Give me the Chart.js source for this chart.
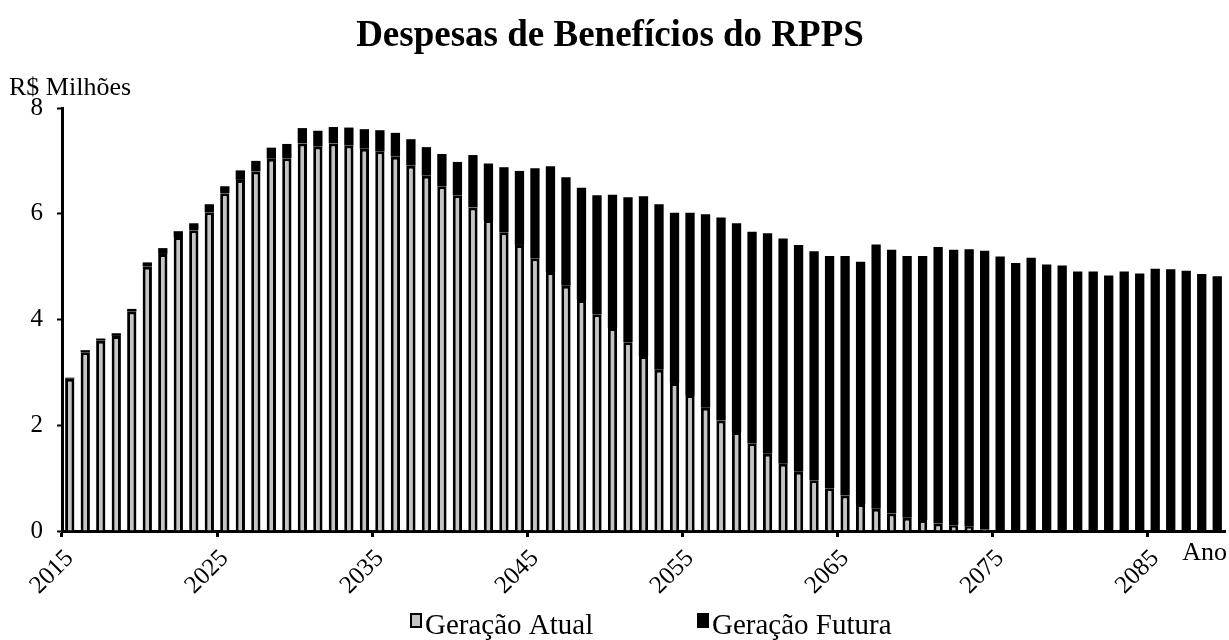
<!DOCTYPE html>
<html lang="pt-BR">
<head>
<meta charset="utf-8">
<title>Despesas de Benefícios do RPPS</title>
<script src="https://cdn.jsdelivr.net/npm/chart.js@4.4.1/dist/chart.umd.min.js"></script>
<style>
  html, body { margin: 0; padding: 0; background: #fff; }
  canvas { display: block; }
</style>
</head>
<body>
<canvas id="chart" width="1229" height="640"></canvas>
<script>
// anos da projeção (eixo x)
const years = [
  '2015','2016','2017','2018','2019','2020','2021','2022','2023','2024',
  '2025','2026','2027','2028','2029','2030','2031','2032','2033','2034',
  '2035','2036','2037','2038','2039','2040','2041','2042','2043','2044',
  '2045','2046','2047','2048','2049','2050','2051','2052','2053','2054',
  '2055','2056','2057','2058','2059','2060','2061','2062','2063','2064',
  '2065','2066','2067','2068','2069','2070','2071','2072','2073','2074',
  '2075','2076','2077','2078','2079','2080','2081','2082','2083','2084',
  '2085','2086','2087','2088','2089'
];

// R$ milhões - geração atual
const geracaoAtual = [
  2.88, 3.38, 3.60, 3.69, 4.15, 5.00, 5.24, 5.56, 5.69, 6.03,
  6.39, 6.64, 6.80, 7.04, 7.05, 7.33, 7.27, 7.33, 7.29, 7.23,
  7.18, 7.08, 6.91, 6.72, 6.52, 6.35, 6.12, 5.88, 5.65, 5.41,
  5.16, 4.90, 4.64, 4.37, 4.10, 3.84, 3.57, 3.31, 3.05, 2.80,
  2.57, 2.33, 2.09, 1.87, 1.66, 1.46, 1.27, 1.12, 0.96, 0.81,
  0.67, 0.51, 0.42, 0.33, 0.25, 0.21, 0.14, 0.11, 0.08, 0.03,
  0, 0, 0, 0, 0, 0, 0, 0, 0, 0,
  0, 0, 0, 0, 0
];

// R$ milhões - geração futura
const geracaoFutura = [
  0.02, 0.04, 0.04, 0.05, 0.05, 0.08, 0.11, 0.11, 0.13, 0.15,
  0.13, 0.18, 0.20, 0.21, 0.27, 0.29, 0.30, 0.31, 0.34, 0.37,
  0.40, 0.45, 0.50, 0.54, 0.61, 0.63, 0.99, 1.07, 1.23, 1.40,
  1.70, 2.00, 2.05, 2.12, 2.25, 2.52, 2.74, 3.02, 3.13, 3.22,
  3.45, 3.66, 3.84, 3.95, 4.00, 4.17, 4.26, 4.29, 4.33, 4.39,
  4.53, 4.58, 5.00, 4.99, 4.95, 4.99, 5.23, 5.21, 5.25, 5.27,
  5.19, 5.07, 5.17, 5.04, 5.02, 4.91, 4.91, 4.83, 4.91, 4.87,
  4.96, 4.95, 4.92, 4.86, 4.82
];

// rótulos mostrados no eixo x
const decadeLabels = ['2015','2025','2035','2045','2055','2065','2075','2085'];

const SERIF = '"Liberation Serif", "Times New Roman", serif';
const GRAY = '#c4c4c4';

// título, unidades, "Ano" e legenda desenhados direto no canvas
const textPlugin = {
  id: 'textos',
  afterDraw(chart) {
    const ctx = chart.ctx;
    const area = chart.chartArea;
    ctx.save();
    ctx.fillStyle = '#000';
    ctx.textBaseline = 'alphabetic';

    ctx.font = 'bold 37px ' + SERIF;
    ctx.textAlign = 'center';
    ctx.fillText('Despesas de Benefícios do RPPS', 610, 46);

    ctx.font = '26px ' + SERIF;
    ctx.textAlign = 'left';
    ctx.fillText('R$ Milhões', 9, 95);

    ctx.textAlign = 'right';
    ctx.fillText('Ano', area.right + 2, 560);

    // legenda
    ctx.font = '29px ' + SERIF;
    ctx.textAlign = 'left';
    const items = [
      { text: 'Geração Atual', fill: GRAY, x: 410 },
      { text: 'Geração Futura', fill: '#000', x: 697 }
    ];
    items.forEach((it) => {
      ctx.fillStyle = it.fill;
      ctx.fillRect(it.x, 613, 12, 15);
      ctx.strokeStyle = '#000';
      ctx.lineWidth = 2;
      ctx.strokeRect(it.x + 1, 614, 10, 13);
      ctx.fillStyle = '#000';
      ctx.fillText(it.text, it.x + 15, 634);
    });
    ctx.restore();
  }
};

const ctx = document.getElementById('chart').getContext('2d');

new Chart(ctx, {
  type: 'bar',
  data: {
    labels: years,
    datasets: [
      {
        label: 'Geração Atual',
        data: geracaoAtual,
        backgroundColor: GRAY,
        borderColor: '#000',
        borderWidth: 3,
        barPercentage: 0.6,
        categoryPercentage: 1.0
      },
      {
        label: 'Geração Futura',
        data: geracaoFutura,
        backgroundColor: '#000',
        borderWidth: 0,
        barPercentage: 0.6,
        categoryPercentage: 1.0
      }
    ]
  },
  options: {
    responsive: false,
    animation: false,
    devicePixelRatio: 1,
    layout: {
      padding: { top: 108, left: 10, right: 4, bottom: 39 }
    },
    plugins: {
      legend: { display: false },
      title: { display: false },
      tooltip: { enabled: false }
    },
    scales: {
      x: {
        stacked: true,
        afterFit: (scale) => {
          scale.height = 70;
          // sem folga extra para os rótulos inclinados
          scale.paddingLeft = 0;
          scale.paddingRight = 0;
        },
        border: { color: '#000', width: 3 },
        grid: {
          offset: true,
          drawOnChartArea: false,
          tickLength: 6,
          tickWidth: 3,
          tickColor: (c) => (c.index % 10 === 0 ? '#000' : 'rgba(0,0,0,0)')
        },
        ticks: {
          autoSkip: false,
          minRotation: 45,
          maxRotation: 45,
          padding: 7,
          color: '#000',
          font: { family: SERIF, size: 25 },
          callback: (value, index) => (decadeLabels.includes(years[index]) ? years[index] : '')
        }
      },
      y: {
        stacked: true,
        min: 0,
        max: 8,
        afterFit: (scale) => { scale.width = 52; },
        border: { color: '#000', width: 3 },
        grid: {
          drawOnChartArea: false,
          tickLength: 5,
          tickWidth: 2,
          tickColor: '#000'
        },
        ticks: {
          stepSize: 2,
          padding: 14,
          color: '#000',
          font: { family: SERIF, size: 25 }
        }
      }
    }
  },
  plugins: [textPlugin]
});
</script>
</body>
</html>
